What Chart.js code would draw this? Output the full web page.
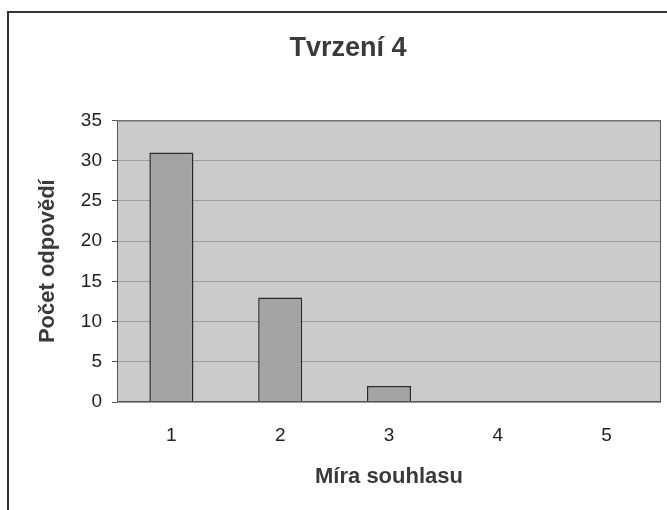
<!DOCTYPE html>
<html>
<head>
<meta charset="utf-8">
<script src="https://cdn.jsdelivr.net/npm/chart.js@4/dist/chart.umd.min.js"></script>
<style>
  html, body { margin: 0; padding: 0; background: #ffffff; }
  #wrap { position: relative; width: 667px; height: 510px; }
  canvas { display: block; }
</style>
</head>
<body>
<div id="wrap"><canvas id="c" width="667" height="510"></canvas></div>
<script>
const chartTitle = "Tvrzení 4";
const xAxisTitle = "Míra souhlasu";
const yAxisTitle = "Počet odpovědí";
const categories = ["1", "2", "3", "4", "5"];
const answerCounts = [31, 13, 2, 0, 0];
const yTicks = [0, 5, 10, 15, 20, 25, 30, 35];

const framePlugin = {
  id: 'frame',
  beforeDraw(chart) {
    const ctx = chart.ctx;
    const a = chart.chartArea;
    ctx.save();
    ctx.fillStyle = '#ffffff';
    ctx.fillRect(0, 0, chart.width, chart.height);
    ctx.fillStyle = '#cbcbcb';
    ctx.fillRect(a.left, a.top, a.right - a.left, a.bottom - a.top);
    ctx.strokeStyle = '#333333';
    ctx.lineWidth = 2;
    ctx.beginPath();
    ctx.moveTo(8, chart.height);
    ctx.lineTo(8, 12);
    ctx.lineTo(chart.width, 12);
    ctx.stroke();
    ctx.restore();
  },
  afterDatasetsDraw(chart) {
    const ctx = chart.ctx;
    const a = chart.chartArea;
    ctx.save();
    ctx.strokeStyle = '#555555';
    ctx.lineWidth = 1;
    ctx.strokeRect(a.left + 0.5, a.top + 0.5, a.right - a.left - 1, a.bottom - a.top - 1);
    ctx.restore();
  }
};

new Chart(document.getElementById('c'), {
  type: 'bar',
  data: {
    labels: categories,
    datasets: [{
      data: answerCounts,
      backgroundColor: '#a4a4a4',
      borderColor: '#2a2a2a',
      borderWidth: 1.5,
      categoryPercentage: 1,
      barPercentage: 0.405
    }]
  },
  options: {
    responsive: false,
    animation: false,
    devicePixelRatio: 1,
    layout: { padding: { left: 35, right: 6, top: 0, bottom: 0 } },
    plugins: {
      legend: { display: false },
      tooltip: { enabled: false },
      title: {
        display: true,
        text: chartTitle,
        color: '#3a3a3a',
        font: { family: 'Liberation Sans, Arial, sans-serif', size: 27, weight: 'bold' },
        padding: { top: 32, bottom: 56 }
      }
    },
    scales: {
      x: {
        grid: { display: false, drawTicks: false },
        border: { display: false },
        ticks: {
          color: '#222222',
          padding: 22,
          font: { family: 'Liberation Sans, Arial, sans-serif', size: 19 }
        },
        title: {
          display: true,
          text: xAxisTitle,
          color: '#3a3a3a',
          font: { family: 'Liberation Sans, Arial, sans-serif', size: 22, weight: 'bold' },
          padding: { top: 0, bottom: 20 }
        },
        afterFit(scale) { scale.height = 108; }
      },
      y: {
        min: 0,
        max: 35,
        afterBuildTicks(scale) { scale.ticks = yTicks.map(v => ({ value: v })); },
        grid: {
          color: '#9c9c9c',
          lineWidth: 1,
          drawTicks: true,
          tickLength: 5,
          tickColor: '#555555'
        },
        border: { display: false },
        ticks: {
          color: '#222222',
          padding: 10,
          font: { family: 'Liberation Sans, Arial, sans-serif', size: 19 }
        },
        title: {
          display: true,
          text: yAxisTitle,
          color: '#3a3a3a',
          font: { family: 'Liberation Sans, Arial, sans-serif', size: 22, weight: 'bold' },
          padding: { top: 0, bottom: 0 }
        },
        afterFit(scale) { scale.width = 82; }
      }
    }
  },
  plugins: [framePlugin]
});
</script>
</body>
</html>
